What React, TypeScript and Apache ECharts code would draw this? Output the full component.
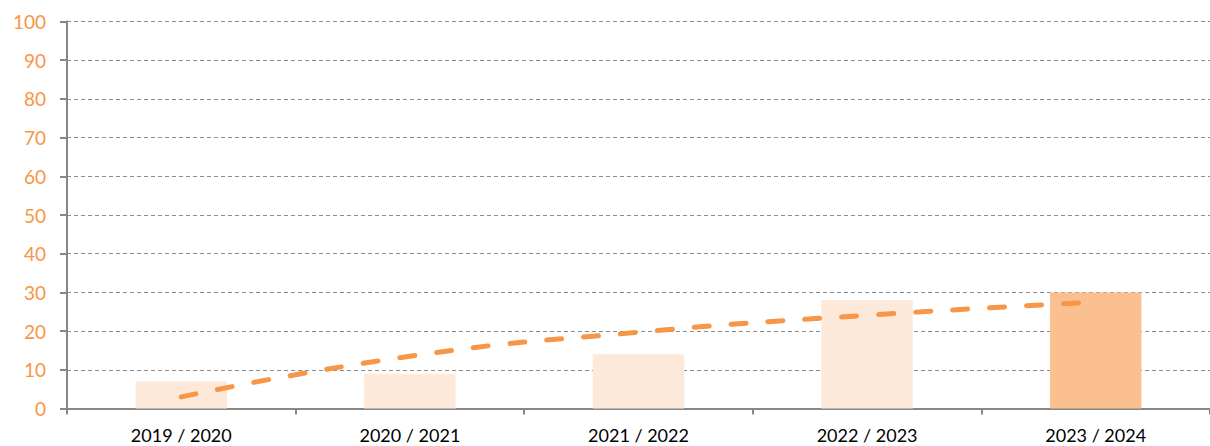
import React, { useEffect, useRef } from "react";
import * as echarts from "echarts";

const categories = ["2019 / 2020", "2020 / 2021", "2021 / 2022", "2022 / 2023", "2023 / 2024"];
const barValues = [7, 9, 14, 28, 30];
const trendValues = [3, 13.5, 19.7, 24.1, 27.5];
const yTicks = { min: 0, max: 100, interval: 10 };

const LIGHT = "#FDE9D9";
const DARK = "#FAC090";
const ORANGE = "#F79646";

export default function App() {
  const ref = useRef<HTMLDivElement>(null);
  useEffect(() => {
    const chart = echarts.init(ref.current!, null, { renderer: "svg" });
    chart.setOption({
      animation: false,
      grid: { left: 67, right: -2, top: 21.5, bottom: 37.5, containLabel: false },
      xAxis: {
        type: "category",
        data: categories,
        boundaryGap: true,
        axisLine: { lineStyle: { color: "#878787", width: 2 } },
        axisTick: { show: true, length: 6, lineStyle: { color: "#878787", width: 2 } },
        axisLabel: { color: "#000", fontSize: 18, fontFamily: "Lato", margin: 17, lineHeight: 18 },
        splitLine: { show: false },
      },
      yAxis: {
        type: "value",
        min: yTicks.min,
        max: yTicks.max,
        interval: yTicks.interval,
        axisLine: { show: true, lineStyle: { color: "#878787", width: 2 } },
        axisTick: { show: true, length: 7, lineStyle: { color: "#878787", width: 2 } },
        axisLabel: { color: ORANGE, fontSize: 19, fontFamily: "Lato", margin: 21 },
        splitLine: { show: true, lineStyle: { color: "#8c8c8c", type: [4, 3], width: 1 } },
      },
      series: [
        {
          type: "bar",
          data: barValues.map((v, i) => ({
            value: v,
            itemStyle: { color: i === barValues.length - 1 ? DARK : LIGHT },
          })),
          barWidth: "40%",
          z: 2,
        },
        {
          type: "line",
          data: trendValues,
          smooth: true,
          symbol: "none",
          lineStyle: { color: ORANGE, width: 5, type: [15, 22], cap: "round" },
          z: 3,
        },
      ],
    });
    return () => chart.dispose();
  }, []);
  return (
    <div
      ref={ref}
      style={{ position: "absolute", left: 0, top: 0, width: 1210, height: 446, background: "#fff" }}
    />
  );
}
